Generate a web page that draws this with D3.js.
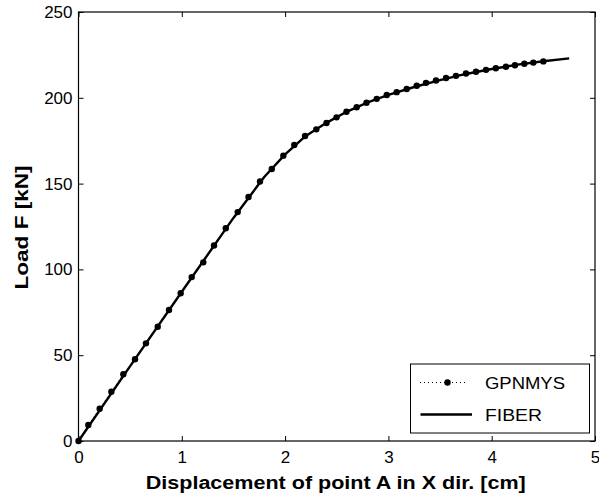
<!DOCTYPE html>
<html>
<head>
<meta charset="utf-8">
<script src="https://cdn.jsdelivr.net/npm/d3@7/dist/d3.min.js"></script>
<style>
  html, body { margin: 0; padding: 0; background: #fff; }
  svg { display: block; font-family: "Liberation Sans", Arial, sans-serif; }
</style>
</head>
<body>
<svg id="chart" width="599" height="498"></svg>
<script>
// GPNMYS analysis: displacement [cm] and load [kN] at each step
const gpnmysDisp = [0, 0.095, 0.205, 0.318, 0.434, 0.547, 0.653, 0.767, 0.876, 0.989,
  1.096, 1.208, 1.312, 1.426, 1.541, 1.646, 1.757, 1.871, 1.983, 2.089,
  2.193, 2.302, 2.401, 2.498, 2.594, 2.693, 2.788, 2.887, 2.984, 3.080,
  3.177, 3.274, 3.364, 3.461, 3.558, 3.654, 3.751, 3.848, 3.945, 4.040,
  4.138, 4.225, 4.316, 4.403, 4.500];
const gpnmysLoad = [0, 9.3, 18.8, 28.7, 38.9, 47.6, 56.9, 66.6, 76.3, 86.1,
  95.5, 104.1, 113.9, 124.0, 133.4, 142.2, 151.2, 158.5, 166.3, 172.5,
  177.7, 181.6, 185.3, 188.6, 191.9, 194.5, 197.1, 199.4, 201.6, 203.3,
  205.1, 207.0, 208.7, 210.1, 211.5, 212.8, 214.2, 215.2, 216.3, 217.2,
  218.1, 219.0, 219.8, 220.5, 221.2];

// FIBER analysis
const fiberDisp = [0, 0.5, 1.0, 1.5, 1.8, 2.0, 2.2, 2.4, 2.6, 2.8, 3.0, 3.25,
  3.5, 3.75, 4.0, 4.25, 4.5, 4.75];
const fiberLoad = [0, 43.6, 87.0, 130.0, 154.0, 167.0, 177.8, 185.4, 192.0, 197.3,
  201.7, 206.3, 210.3, 213.9, 216.8, 219.3, 221.3, 223.0];

const xTicks = [0, 1, 2, 3, 4, 5];
const yTicks = [0, 50, 100, 150, 200, 250];
const seriesNames = ["GPNMYS", "FIBER"];

const svg = d3.select("#chart");
const plot = { left: 78.5, right: 595, top: 12, bottom: 441 };

const x = d3.scaleLinear().domain([0, 5]).range([plot.left, plot.right]);
const y = d3.scaleLinear().domain([0, 250]).range([plot.bottom, plot.top]);

const tickLen = 5;
const fontSize = 17;

// Axes: labelled ticks on bottom/left, mirrored inward ticks on top/right
const axisBottom = d3.axisBottom(x).tickValues(xTicks).tickSizeInner(-tickLen).tickSizeOuter(0).tickPadding(10).tickFormat(d3.format("d"));
const axisLeft = d3.axisLeft(y).tickValues(yTicks).tickSizeInner(-tickLen).tickSizeOuter(0).tickPadding(6).tickFormat(d3.format("d"));
const axisTop = d3.axisTop(x).tickValues(xTicks).tickSizeInner(-tickLen).tickSizeOuter(0).tickFormat("");
const axisRight = d3.axisRight(y).tickValues(yTicks).tickSizeInner(-tickLen).tickSizeOuter(0).tickFormat("");

function styleAxis(g) {
  g.select(".domain").remove();
  g.selectAll(".tick line").attr("stroke", "#000").attr("stroke-width", 1);
  g.selectAll(".tick text").attr("fill", "#000").style("font-size", fontSize + "px")
    .style("font-family", "'Liberation Sans', Arial, sans-serif");
}

svg.append("g").attr("transform", `translate(0,${plot.bottom})`).call(axisBottom).call(styleAxis);
svg.append("g").attr("transform", `translate(${plot.left},0)`).call(axisLeft).call(styleAxis);
svg.append("g").attr("transform", `translate(0,${plot.top})`).call(axisTop).call(styleAxis);
svg.append("g").attr("transform", `translate(${plot.right},0)`).call(axisRight).call(styleAxis);

// Frame
svg.append("rect")
  .attr("x", plot.left).attr("y", plot.top)
  .attr("width", plot.right - plot.left).attr("height", plot.bottom - plot.top)
  .attr("fill", "none").attr("stroke", "#000").attr("stroke-width", 1.2);

const line = d3.line().x(d => x(d[0])).y(d => y(d[1]));

const gpnmys = gpnmysDisp.map((d, i) => [d, gpnmysLoad[i]]);
const fiber = fiberDisp.map((d, i) => [d, fiberLoad[i]]);

// GPNMYS: dotted line with filled markers
svg.append("path").datum(gpnmys).attr("d", line)
  .attr("fill", "none").attr("stroke", "#000").attr("stroke-width", 1)
  .attr("stroke-dasharray", "1,3");
svg.append("g").selectAll("circle").data(gpnmys).join("circle")
  .attr("cx", d => x(d[0])).attr("cy", d => y(d[1])).attr("r", 3.2).attr("fill", "#000");

// FIBER: solid line
svg.append("path").datum(fiber).attr("d", line)
  .attr("fill", "none").attr("stroke", "#000").attr("stroke-width", 2.4)
  .attr("stroke-linejoin", "round");

// Axis titles
svg.append("text")
  .attr("x", (plot.left + plot.right) / 2 - 1).attr("y", 489)
  .attr("text-anchor", "middle").attr("font-weight", "bold").style("font-size", "18px")
  .attr("textLength", 380).attr("lengthAdjust", "spacingAndGlyphs")
  .text("Displacement of point A in X dir. [cm]");
svg.append("text")
  .attr("transform", `translate(28,${(plot.top + plot.bottom) / 2 + 1}) rotate(-90)`)
  .attr("text-anchor", "middle").attr("font-weight", "bold").style("font-size", "18px")
  .attr("textLength", 124).attr("lengthAdjust", "spacingAndGlyphs")
  .text("Load F [kN]");

// Legend
const legend = svg.append("g");
legend.append("rect")
  .attr("x", 410.5).attr("y", 364).attr("width", 179).attr("height", 69)
  .attr("fill", "#fff").attr("stroke", "#000").attr("stroke-width", 1);
const rows = [382.5, 414.5];
legend.append("line").attr("x1", 420).attr("x2", 466).attr("y1", rows[0]).attr("y2", rows[0])
  .attr("stroke", "#000").attr("stroke-width", 1).attr("stroke-dasharray", "1,3");
legend.append("circle").attr("cx", 447.5).attr("cy", rows[0]).attr("r", 3.2).attr("fill", "#000");
legend.append("line").attr("x1", 420.5).attr("x2", 472).attr("y1", rows[1]).attr("y2", rows[1])
  .attr("stroke", "#000").attr("stroke-width", 2.4);
const legendWidths = [80, 57];
legend.selectAll("text.lbl").data(seriesNames).join("text").attr("class", "lbl")
  .attr("x", 485).attr("y", (d, i) => rows[i] + 6)
  .style("font-size", fontSize + "px")
  .attr("textLength", (d, i) => legendWidths[i]).attr("lengthAdjust", "spacingAndGlyphs")
  .text(d => d);
</script>
</body>
</html>
